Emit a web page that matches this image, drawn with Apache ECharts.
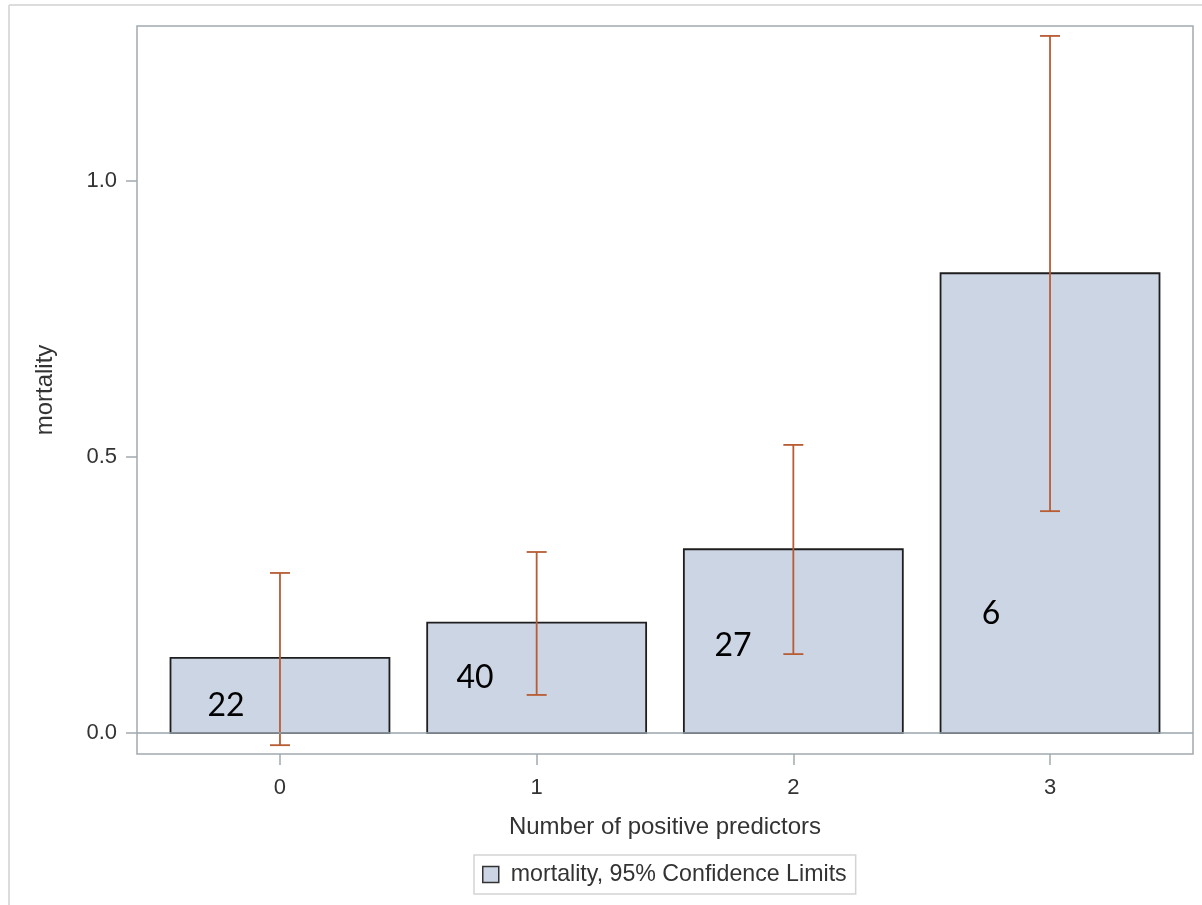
<!DOCTYPE html>
<html>
<head>
<meta charset="utf-8">
<script src="https://cdn.jsdelivr.net/npm/echarts@6/dist/echarts.min.js"></script>
<style>
  html, body { margin: 0; padding: 0; background: #fff; }
  #chart { width: 1202px; height: 905px; }
</style>
</head>
<body>
<div id="chart"></div>
<script>
// number of positive predictors
const categories = [0, 1, 2, 3];
// mortality (proportion) and its 95% confidence limits
const mortality = [0.136, 0.2, 0.333, 0.833];
const lowerCL = [-0.022, 0.069, 0.143, 0.402];
const upperCL = [0.290, 0.328, 0.522, 1.263];
// patient counts written inside the bars, with where they sit
const counts = ['22', '40', '27', '6'];
const countX = [-0.21, 0.76, 1.765, 2.77];
const countY = [0.049, 0.1, 0.159, 0.217];

const yTicks = [0, 0.5, 1.0];
const barHalf = 0.4265;
const axisFont = 'Liberation Sans, Arial, sans-serif';

const chart = echarts.init(document.getElementById('chart'));

chart.setOption({
  animation: false,
  backgroundColor: '#fff',
  graphic: [
    { type: 'line', shape: { x1: 9, y1: 5, x2: 1202, y2: 5 }, style: { stroke: '#dcdcdc', lineWidth: 2 } },
    { type: 'line', shape: { x1: 9, y1: 5, x2: 9, y2: 905 }, style: { stroke: '#dcdcdc', lineWidth: 2 } }
  ],
  grid: {
    left: 137, top: 26, right: 9, bottom: 151,
    show: true, borderColor: '#a3a9ae', borderWidth: 1.5, backgroundColor: 'transparent'
  },
  legend: {
    left: 474, top: 855,
    padding: [8, 9, 8, 8],
    borderColor: '#d4d4d4', borderWidth: 1.5,
    itemWidth: 16, itemHeight: 16,
    icon: 'rect',
    itemStyle: { color: '#cbd5e4', borderColor: '#333', borderWidth: 1.5 },
    textStyle: { fontFamily: axisFont, fontSize: 23.2, color: '#333', padding: [0, 0, 0, 7] },
    data: ['mortality, 95% Confidence Limits']
  },
  xAxis: {
    type: 'value',
    min: -0.557, max: 3.557,
    name: 'Number of positive predictors',
    nameLocation: 'middle',
    nameGap: 61,
    nameTextStyle: { fontFamily: axisFont, fontSize: 24, color: '#333' },
    splitLine: { show: false },
    axisLine: { show: false, onZero: false },
    axisTick: { show: true, customValues: categories, length: 11, lineStyle: { color: '#a3a9ae', width: 1.5 } },
    axisLabel: { customValues: categories, fontFamily: axisFont, fontSize: 22, color: '#333', margin: 23 }
  },
  yAxis: {
    type: 'value',
    min: -0.038, max: 1.281,
    name: 'mortality',
    nameLocation: 'middle',
    nameGap: 80,
    nameTextStyle: { fontFamily: axisFont, fontSize: 24, color: '#333' },
    splitLine: { show: false },
    axisLine: { show: false, onZero: false },
    axisTick: { show: true, customValues: yTicks, length: 11, lineStyle: { color: '#a3a9ae', width: 1.5 } },
    axisLabel: {
      customValues: yTicks, fontFamily: axisFont, fontSize: 22, color: '#333', margin: 20,
      formatter: v => v.toFixed(1)
    }
  },
  series: [
    {
      type: 'line',
      data: [],
      z: 1,
      markLine: {
        silent: true, symbol: 'none', label: { show: false },
        lineStyle: { color: '#9aa5ae', width: 1.5, type: 'solid' },
        data: [{ yAxis: 0 }]
      }
    },
    {
      name: 'mortality, 95% Confidence Limits',
      type: 'custom',
      z: 2,
      itemStyle: { color: '#cbd5e4', borderColor: '#333' },
      data: categories.map((c, i) => [c, mortality[i]]),
      renderItem: function (params, api) {
        const x = api.value(0), v = api.value(1);
        const p1 = api.coord([x - barHalf, v]);
        const p2 = api.coord([x + barHalf, 0]);
        return {
          type: 'rect',
          shape: { x: p1[0], y: p1[1], width: p2[0] - p1[0], height: p2[1] - p1[1] },
          style: { fill: '#cbd5e4', stroke: '#1e1e1e', lineWidth: 1.8 }
        };
      }
    },
    {
      type: 'custom',
      z: 3,
      data: categories.map((c, i) => [c, lowerCL[i], upperCL[i]]),
      renderItem: function (params, api) {
        const x = api.value(0);
        const lo = api.coord([x, api.value(1)]);
        const hi = api.coord([x, api.value(2)]);
        const cap = 10;
        const style = { stroke: '#b85c34', lineWidth: 1.8 };
        return {
          type: 'group',
          children: [
            { type: 'line', shape: { x1: hi[0], y1: hi[1], x2: lo[0], y2: lo[1] }, style: style },
            { type: 'line', shape: { x1: hi[0] - cap, y1: hi[1], x2: hi[0] + cap, y2: hi[1] }, style: style },
            { type: 'line', shape: { x1: lo[0] - cap, y1: lo[1], x2: lo[0] + cap, y2: lo[1] }, style: style }
          ]
        };
      }
    },
    {
      type: 'custom',
      z: 4,
      data: counts.map((t, i) => [countX[i], countY[i], t]),
      renderItem: function (params, api) {
        const p = api.coord([api.value(0), api.value(1)]);
        return {
          type: 'text',
          style: {
            x: p[0], y: p[1],
            text: counts[params.dataIndex],
            fill: '#000',
            font: '32px Lato, "Open Sans", sans-serif',
            align: 'center', verticalAlign: 'middle'
          }
        };
      }
    }
  ]
});
</script>
</body>
</html>
